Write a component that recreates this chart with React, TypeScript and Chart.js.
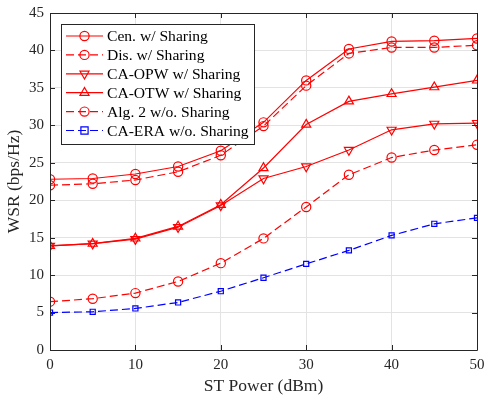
import React, { useEffect, useRef } from "react";
import { Chart, registerables } from "chart.js";

Chart.register(...registerables);

const power = [0, 5, 10, 15, 20, 25, 30, 35, 40, 45, 50];
const xTicks = [0, 10, 20, 30, 40, 50];
const yTicks = [0, 5, 10, 15, 20, 25, 30, 35, 40, 45];

const cenShare = [22.8, 22.9, 23.5, 24.5, 26.6, 30.4, 36.0, 40.2, 41.2, 41.3, 41.6];
const disShare = [22.0, 22.2, 22.7, 23.8, 26.0, 29.9, 35.3, 39.6, 40.4, 40.4, 40.7];
const opwShare = [13.9, 14.2, 14.8, 16.4, 19.3, 22.9, 24.5, 26.7, 29.4, 30.2, 30.3];
const otwShare = [13.9, 14.2, 14.9, 16.5, 19.4, 24.3, 30.1, 33.2, 34.2, 35.1, 36.0];
const alg2NoShare = [6.45, 6.85, 7.6, 9.15, 11.6, 14.9, 19.1, 23.4, 25.7, 26.7, 27.4];
const eraNoShare = [5.0, 5.1, 5.55, 6.35, 7.85, 9.65, 11.5, 13.3, 15.3, 16.85, 17.65];

const labels = [
  "Cen. w/ Sharing",
  "Dis. w/ Sharing",
  "CA-OPW w/ Sharing",
  "CA-OTW w/ Sharing",
  "Alg. 2 w/o. Sharing",
  "CA-ERA w/o. Sharing",
];

const RED = "#ff0000";
const BLUE = "#0000ff";
const DASH = [8, 4];
const FONT = "'Liberation Serif', 'Times New Roman', serif";
const AXIS = "#262626";

type Marker = "circle" | "triDown" | "triUp" | "rect";
const styles: { color: string; dash: number[]; marker: Marker; r: number }[] = [
  { color: RED, dash: [], marker: "circle", r: 4.6 },
  { color: RED, dash: DASH, marker: "circle", r: 4.6 },
  { color: RED, dash: [], marker: "triDown", r: 5.2 },
  { color: RED, dash: [], marker: "triUp", r: 5.2 },
  { color: RED, dash: DASH, marker: "circle", r: 4.6 },
  { color: BLUE, dash: DASH, marker: "rect", r: 3.6 },
];
const series = [cenShare, disShare, opwShare, otwShare, alg2NoShare, eraNoShare];

function drawMarker(ctx: CanvasRenderingContext2D, m: Marker, x: number, y: number, r: number) {
  ctx.beginPath();
  if (m === "circle") {
    ctx.arc(x, y, r, 0, Math.PI * 2);
  } else if (m === "rect") {
    ctx.rect(x - r, y - r, 2 * r, 2 * r);
  } else {
    const s = m === "triUp" ? -1 : 1;
    ctx.moveTo(x, y + s * r);
    ctx.lineTo(x - r * 0.866, y - s * r * 0.5);
    ctx.lineTo(x + r * 0.866, y - s * r * 0.5);
    ctx.closePath();
  }
  ctx.stroke();
}

const framePlugin = {
  id: "frame",
  afterDatasetsDraw(chart: any) {
    const { ctx, chartArea } = chart;
    const { left, right, top, bottom } = chartArea;
    const xs = chart.scales.x;
    const ys = chart.scales.y;
    ctx.save();
    ctx.strokeStyle = AXIS;
    ctx.lineWidth = 1;
    ctx.beginPath();
    ctx.rect(Math.round(left) + 0.5, Math.round(top) + 0.5, Math.round(right - left), Math.round(bottom - top));
    ctx.stroke();
    ctx.beginPath();
    const tl = 5;
    xTicks.forEach((v) => {
      const px = Math.round(xs.getPixelForValue(v)) + 0.5;
      ctx.moveTo(px, bottom);
      ctx.lineTo(px, bottom - tl);
      ctx.moveTo(px, top);
      ctx.lineTo(px, top + tl);
    });
    yTicks.forEach((v) => {
      const py = Math.round(ys.getPixelForValue(v)) + 0.5;
      ctx.moveTo(left, py);
      ctx.lineTo(left + tl, py);
      ctx.moveTo(right, py);
      ctx.lineTo(right - tl, py);
    });
    ctx.stroke();

    // legend
    const bx = 61, by = 24, bw = 193, bh = 120;
    ctx.fillStyle = "#ffffff";
    ctx.fillRect(bx, by, bw, bh);
    ctx.strokeStyle = AXIS;
    ctx.strokeRect(bx + 0.5, by + 0.5, bw, bh);
    ctx.font = "15.6px " + FONT;
    ctx.textBaseline = "middle";
    ctx.textAlign = "left";
    styles.forEach((st, i) => {
      const y = by + 12 + i * 18.9;
      ctx.strokeStyle = st.color;
      ctx.lineWidth = 1.2;
      ctx.setLineDash(st.dash);
      ctx.beginPath();
      ctx.moveTo(66, y);
      ctx.lineTo(103, y);
      ctx.stroke();
      ctx.setLineDash([]);
      drawMarker(ctx, st.marker, 84.5, y, st.r);
      ctx.fillStyle = "#000000";
      ctx.fillText(labels[i], 107, y + 1);
    });
    ctx.restore();
  },
};

export default function App() {
  const ref = useRef<HTMLCanvasElement | null>(null);
  useEffect(() => {
    document.body.style.margin = "0";
    const canvas = ref.current!;
    const chart = new Chart(canvas, {
      type: "line",
      data: {
        datasets: series.map((vals, i) => ({
          label: labels[i],
          data: vals.map((v, j) => ({ x: power[j], y: v })),
          borderColor: styles[i].color,
          backgroundColor: "transparent",
          borderWidth: 1.2,
          borderDash: styles[i].dash,
          pointStyle: styles[i].marker === "circle" ? "circle" : styles[i].marker === "rect" ? "rect" : "triangle",
          rotation: styles[i].marker === "triDown" ? 180 : 0,
          pointRadius: styles[i].r,
          pointBorderColor: styles[i].color,
          pointBackgroundColor: "transparent",
          pointBorderWidth: 1.2,
          tension: 0,
        })),
      },
      options: {
        animation: false,
        responsive: false,
        devicePixelRatio: 1,
        layout: { padding: { left: 0, right: 8, top: 13, bottom: 0 } },
        plugins: { legend: { display: false }, tooltip: { enabled: false } },
        scales: {
          x: {
            type: "linear",
            min: 0,
            max: 50,
            afterBuildTicks: (s: any) => {
              s.ticks = xTicks.map((v) => ({ value: v }));
            },
            afterFit: (s: any) => {
              s.height = 46;
              s.paddingRight = 0;
              s.paddingLeft = 0;
            },
            grid: { color: "#e3e3e3", drawTicks: false, lineWidth: 1 },
            border: { display: false },
            ticks: { color: "#262626", font: { family: FONT, size: 15 }, padding: 6, maxRotation: 0 },
            title: {
              display: true,
              text: "ST Power (dBm)",
              color: "#262626",
              font: { family: FONT, size: 17.5 },
              padding: { top: 0, bottom: -1 },
            },
          },
          y: {
            type: "linear",
            min: 0,
            max: 45,
            afterBuildTicks: (s: any) => {
              s.ticks = yTicks.map((v) => ({ value: v }));
            },
            afterFit: (s: any) => {
              s.width = 50;
              s.paddingTop = 0;
              s.paddingBottom = 0;
            },
            grid: { color: "#e3e3e3", drawTicks: false, lineWidth: 1 },
            border: { display: false },
            ticks: { color: "#262626", font: { family: FONT, size: 15 }, padding: 6 },
            title: {
              display: true,
              text: "WSR (bps/Hz)",
              color: "#262626",
              font: { family: FONT, size: 17.5 },
              padding: { top: 4, bottom: 0 },
            },
          },
        },
      },
      plugins: [framePlugin],
    } as any);
    return () => chart.destroy();
  }, []);
  return <canvas ref={ref} width={485} height={396} style={{ display: "block" }} />;
}
